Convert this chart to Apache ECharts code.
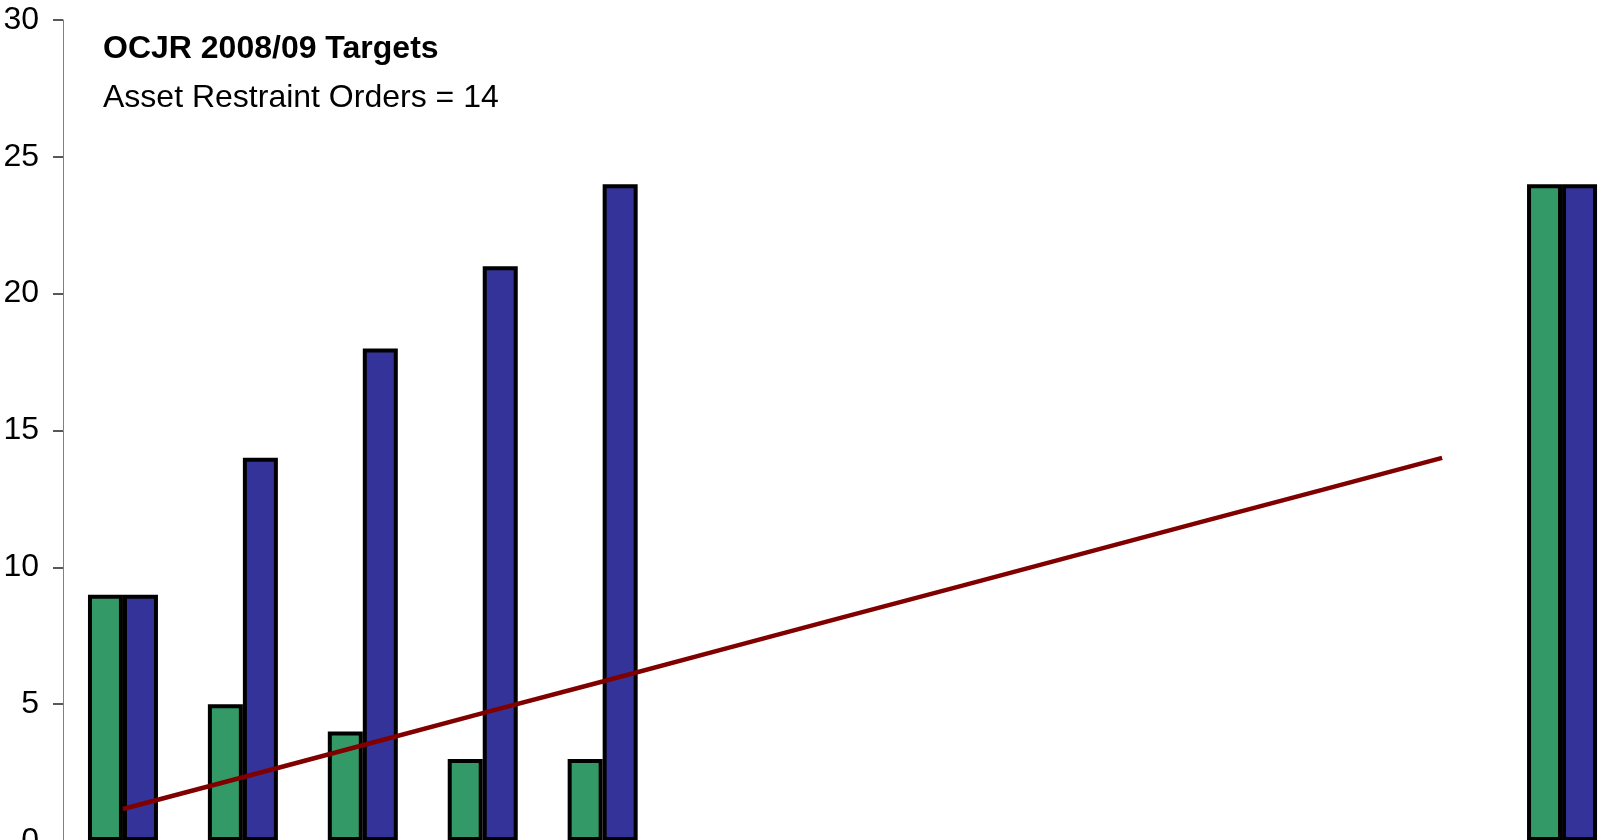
<!DOCTYPE html>
<html>
<head>
<meta charset="utf-8">
<title>OCJR 2008/09 Targets</title>
<script src="https://cdn.jsdelivr.net/npm/echarts@6/dist/echarts.min.js"></script>
<style>
	html, body { margin: 0; padding: 0; background: #fff; }
	#main { width: 1609px; height: 840px; }
</style>
</head>
<body>
<div id="main"></div>
<script>
//月份类目，最后一项为全年
var months = ['Apr', 'May', 'Jun', 'Jul', 'Aug', 'Sep', 'Oct', 'Nov', 'Dec', 'Jan', 'Feb', 'Mar', 'Total'];
//当月数量
var monthlyVal = [9, 5, 4, 3, 3, null, null, null, null, null, null, null, 24];
//累计数量
var cumulativeVal = [9, 14, 18, 21, 24, null, null, null, null, null, null, null, 24];
//目标线
var targetVal = [1.17, 2.33, 3.5, 4.67, 5.83, 7, 8.17, 9.33, 10.5, 11.67, 12.83, 14, null];
//纵轴刻度
var yTicks = [0, 5, 10, 15, 20, 25, 30];

var fontName = 'Liberation Sans, Arial, sans-serif';

var chart = echarts.init(document.getElementById('main'));
var option = {
	animation: false,
	title: [{
		text: 'OCJR 2008/09 Targets',
		left: 98,
		top: 28,
		textStyle: {
			fontFamily: fontName,
			fontSize: 32,
			fontWeight: 'bold',
			color: '#000'
		}
	}, {
		text: 'Asset Restraint Orders = 14',
		left: 98,
		top: 77,
		textStyle: {
			fontFamily: fontName,
			fontSize: 32,
			fontWeight: 'normal',
			color: '#000'
		}
	}],
	grid: {
		left: 63,
		top: 20,
		width: 1559,
		height: 821,
		outerBoundsMode: 'none',
		containLabel: false
	},
	xAxis: [{
		type: 'category',
		data: months,
		axisLine: { show: false },
		axisTick: { show: false },
		axisLabel: { show: false }
	}],
	yAxis: [{
		type: 'value',
		min: yTicks[0],
		max: yTicks[yTicks.length - 1],
		interval: yTicks[1] - yTicks[0],
		splitLine: { show: false },
		axisLine: {
			show: true,
			lineStyle: { color: '#808080', width: 1 }
		},
		axisTick: {
			show: true,
			length: 10,
			lineStyle: { color: '#222', width: 1.5 }
		},
		axisLabel: {
			margin: 24,
			fontFamily: fontName,
			fontSize: 32,
			color: '#000'
		}
	}],
	series: [{
		name: 'Monthly',
		type: 'bar',
		data: monthlyVal,
		barWidth: 35,
		barGap: '0%',
		itemStyle: {
			color: '#339966',
			borderColor: '#000',
			borderWidth: 4
		}
	}, {
		name: 'Cumulative',
		type: 'bar',
		data: cumulativeVal,
		barWidth: 35,
		barGap: '0%',
		itemStyle: {
			color: '#333399',
			borderColor: '#000',
			borderWidth: 4
		}
	}, {
		name: 'Target',
		type: 'line',
		data: targetVal,
		showSymbol: false,
		z: 5,
		lineStyle: {
			color: '#800000',
			width: 4.5
		}
	}]
};
chart.setOption(option);
</script>
</body>
</html>
